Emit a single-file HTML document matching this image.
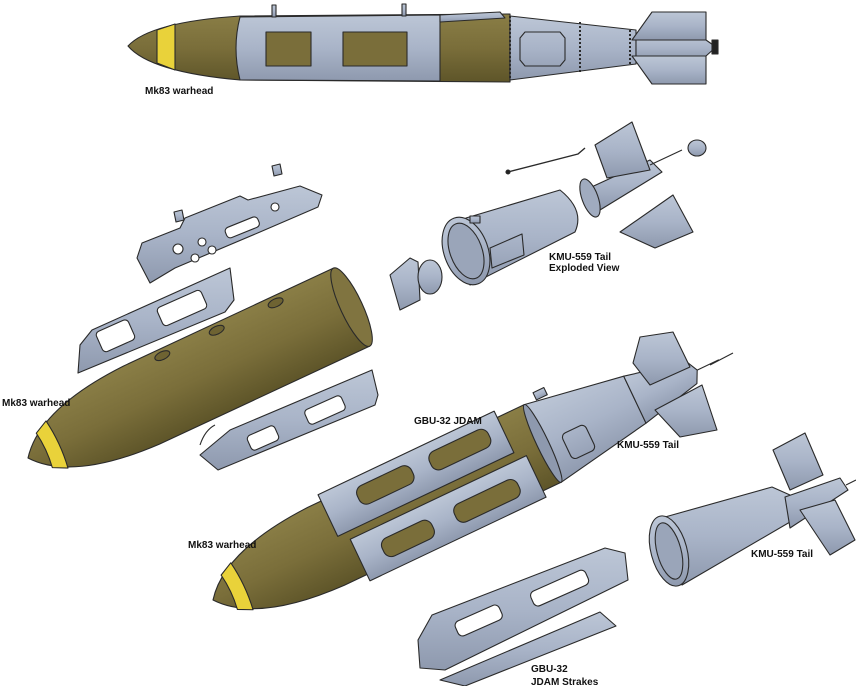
<!DOCTYPE html>
<html><head><meta charset="utf-8"><style>
html,body{margin:0;padding:0;background:#fff;}
svg{display:block}
text{font-family:"Liberation Sans",Arial,sans-serif;font-size:10px;font-weight:bold;fill:#111}
</style></head><body>
<svg width="856" height="686" viewBox="0 0 856 686" xmlns="http://www.w3.org/2000/svg">
<defs>
<linearGradient id="ol" x1="0" y1="0" x2="0" y2="1"><stop offset="0" stop-color="#8a7e46"/><stop offset="0.5" stop-color="#7a6e3a"/><stop offset="1" stop-color="#5e5529"/></linearGradient>
<linearGradient id="gr" x1="0" y1="0" x2="0" y2="1"><stop offset="0" stop-color="#bcc6d6"/><stop offset="0.5" stop-color="#a9b4c8"/><stop offset="1" stop-color="#8e99ae"/></linearGradient>
</defs>
<g stroke="#2a2a2a" stroke-width="1.1" stroke-linejoin="round">

<!-- TOP BOMB -->
<path d="M128,46 Q150,22 240,16 L510,14 L510,82 L240,80 Q150,72 128,46 Z" fill="url(#ol)"/>
<path d="M157,30 L175,24 L175,70 L157,63 Z" fill="#e9d23a"/>
<path d="M510,16 L636,30 L636,64 L510,80 Z" fill="url(#gr)"/>
<path d="M636,36 L706,40 L716,47 L706,56 L636,60 Z" fill="url(#gr)"/>
<path d="M632,40 L652,12 L706,12 L706,40 Z" fill="url(#gr)"/>
<path d="M632,56 L652,84 L706,84 L706,56 Z" fill="url(#gr)"/>
<rect x="712" y="40" width="6" height="14" fill="#222"/>
<path d="M240,17 L440,15 L440,81 L240,80 Q232,48 240,17 Z" fill="url(#gr)"/>
<path d="M440,15 L500,12 L505,18 L440,22 Z" fill="url(#gr)"/>
<rect x="266" y="32" width="45" height="34" fill="#7a6e3a"/>
<rect x="343" y="32" width="64" height="34" fill="#7a6e3a"/>
<path d="M525,32 L560,32 L565,38 L565,60 L560,66 L525,66 L520,60 L520,38 Z" fill="none"/>
<line x1="510" y1="16" x2="510" y2="80" stroke-dasharray="2,2" stroke-width="2"/>
<line x1="580" y1="22" x2="580" y2="72" stroke-dasharray="2,2" stroke-width="2"/>
<line x1="630" y1="30" x2="630" y2="64" stroke-dasharray="2,2" stroke-width="2"/>
<rect x="272" y="5" width="4" height="12" fill="url(#gr)"/>
<rect x="402" y="4" width="4" height="12" fill="url(#gr)"/>

<!-- MIDDLE WARHEAD -->
<g transform="translate(28,458) rotate(-25)">
<path d="M0,0 C20,-26 60,-41 125,-43 L357,-43 L357,43 L125,43 C60,41 20,26 0,0 Z" fill="url(#ol)"/>
<path d="M18,-19 L32,-26 Q36,0 32,26 L18,19 Q21,0 18,-19 Z" fill="#e9d23a"/>
<ellipse cx="357" cy="0" rx="11" ry="43" fill="#807440"/>
<ellipse cx="165" cy="-36" rx="8" ry="4" fill="#6e6332"/>
<ellipse cx="225" cy="-36" rx="8" ry="4" fill="#6e6332"/>
<ellipse cx="290" cy="-36" rx="8" ry="4" fill="#6e6332"/>
</g>
<!-- strake pieces -->
<path d="M137,258 L142,243 L180,228 L185,218 L240,196 L248,200 L300,186 L322,195 L318,207 L260,232 L175,268 L150,283 Z" fill="url(#gr)"/>
<circle cx="178" cy="249" r="5" fill="#fff"/><circle cx="195" cy="258" r="4" fill="#fff"/><circle cx="202" cy="242" r="4" fill="#fff"/>
<circle cx="212" cy="250" r="4" fill="#fff"/><circle cx="275" cy="207" r="4" fill="#fff"/>
<rect x="225" y="222" width="35" height="11" rx="4" fill="#fff" transform="rotate(-22 242 228)"/>
<path d="M174,212 l8,-2 l2,10 l-8,2 z" fill="url(#gr)"/>
<path d="M272,166 l8,-2 l2,10 l-8,2 z" fill="url(#gr)"/>
<path d="M78,373 L80,345 L92,330 L230,268 L234,300 L225,312 Z" fill="url(#gr)"/>
<rect x="98" y="325" width="35" height="22" rx="4" fill="#fff" transform="rotate(-24 115 336)"/>
<rect x="158" y="298" width="48" height="20" rx="4" fill="#fff" transform="rotate(-24 182 308)"/>
<path d="M200,455 L230,430 L372,370 L378,395 L375,405 L218,470 Z" fill="url(#gr)"/>
<rect x="248" y="430" width="30" height="16" rx="4" fill="#fff" transform="rotate(-24 263 438)"/>
<rect x="305" y="402" width="40" height="16" rx="4" fill="#fff" transform="rotate(-24 325 410)"/>
<path d="M200,445 Q205,430 215,425" fill="none"/>

<!-- EXPLODED TAIL -->
<path d="M466,218 L560,190 Q585,210 575,232 L470,285 Z" fill="url(#gr)"/>
<ellipse cx="466" cy="251" rx="22" ry="35" fill="url(#gr)" transform="rotate(-20 466 251)"/>
<ellipse cx="466" cy="251" rx="16" ry="29" fill="#9aa5b9" transform="rotate(-20 466 251)"/>
<path d="M490,248 L522,234 L524,255 L492,268 Z" fill="none"/>
<rect x="470" y="216" width="10" height="7" fill="url(#gr)"/>
<path d="M390,275 L410,258 L418,262 L420,300 L400,310 Z" fill="url(#gr)"/>
<ellipse cx="430" cy="277" rx="12" ry="17" fill="url(#gr)"/>
<path d="M585,190 L650,160 L662,172 L600,210 Z" fill="url(#gr)"/>
<ellipse cx="590" cy="198" rx="8" ry="20" fill="#a0abbf" transform="rotate(-20 590 198)"/>
<path d="M595,145 L632,122 L650,170 L607,178 Z" fill="url(#gr)"/>
<path d="M620,232 L673,195 L693,232 L655,248 Z" fill="url(#gr)"/>
<ellipse cx="697" cy="148" rx="9" ry="8" fill="url(#gr)"/>
<line x1="650" y1="165" x2="682" y2="150"/>
<path d="M508,172 L578,154 L585,148" fill="none" stroke-width="1.4"/>
<circle cx="508" cy="172" r="2" fill="#222"/>

<!-- BOTTOM JDAM -->
<g transform="translate(213,600) rotate(-25.4)">
<path d="M0,0 C20,-26 60,-41 125,-43 L365,-43 L365,43 L125,43 C60,41 20,26 0,0 Z" fill="url(#ol)"/>
<path d="M18,-19 L32,-26 Q36,0 32,26 L18,19 Q21,0 18,-19 Z" fill="#e9d23a"/>
<path d="M365,-43 L467,-26 L467,26 L365,43 Z" fill="url(#gr)"/>
<ellipse cx="365" cy="0" rx="6" ry="43" fill="#8e99ae"/>
<path d="M467,-26 L530,-12 L536,0 L530,12 L467,26 Z" fill="url(#gr)"/>
<line x1="536" y1="0" x2="560" y2="0"/>
<path d="M140,-50 L335,-50 L335,-4 L140,-4 Z" fill="url(#gr)"/>
<path d="M150,4 L345,4 L345,50 L150,50 Z" fill="url(#gr)"/>
<rect x="175" y="-40" width="60" height="20" rx="8" fill="#7a6e3a"/>
<rect x="255" y="-40" width="65" height="20" rx="8" fill="#7a6e3a"/>
<rect x="175" y="18" width="55" height="20" rx="8" fill="#7a6e3a"/>
<rect x="255" y="18" width="70" height="20" rx="8" fill="#7a6e3a"/>
<rect x="385" y="0" width="26" height="28" rx="5" fill="none"/>
<rect x="378" y="-50" width="12" height="8" fill="url(#gr)"/>
</g>
<path d="M633,363 L640,337 L673,332 L690,367 L650,385 Z" fill="url(#gr)"/>
<path d="M655,410 L680,437 L717,430 L702,385 Z" fill="url(#gr)"/>
<line x1="710" y1="365" x2="733" y2="353"/>

<!-- bottom strakes -->
<path d="M418,640 L432,615 L605,548 L625,553 L628,580 L445,670 L420,668 Z" fill="url(#gr)"/>
<rect x="455" y="612" width="48" height="16" rx="5" fill="#fff" transform="rotate(-24 480 621)"/>
<rect x="530" y="580" width="60" height="16" rx="5" fill="#fff" transform="rotate(-24 560 589)"/>
<path d="M440,680 L600,612 L616,626 L465,686 Z" fill="url(#gr)"/>

<!-- SMALL TAIL right -->
<path d="M665,517 L772,487 L790,495 L790,522 L682,585 Z" fill="url(#gr)"/>
<ellipse cx="669" cy="551" rx="18" ry="36" fill="url(#gr)" transform="rotate(-15 669 551)"/>
<ellipse cx="669" cy="551" rx="12" ry="29" fill="#9aa5b9" transform="rotate(-15 669 551)"/>
<path d="M785,497 L840,478 L848,490 L790,528 Z" fill="url(#gr)"/>
<path d="M773,450 L805,433 L823,475 L790,490 Z" fill="url(#gr)"/>
<path d="M800,510 L835,500 L855,540 L830,555 Z" fill="url(#gr)"/>
<line x1="846" y1="485" x2="856" y2="480"/>
</g>

<text x="145" y="94">Mk83 warhead</text>
<text x="549" y="260">KMU-559 Tail</text>
<text x="549" y="271">Exploded View</text>
<text x="2" y="406">Mk83 warhead</text>
<text x="414" y="424">GBU-32 JDAM</text>
<text x="617" y="448">KMU-559 Tail</text>
<text x="188" y="548">Mk83 warhead</text>
<text x="751" y="557">KMU-559 Tail</text>
<text x="531" y="672">GBU-32</text>
<text x="531" y="685">JDAM Strakes</text>
</svg>
</body></html>
